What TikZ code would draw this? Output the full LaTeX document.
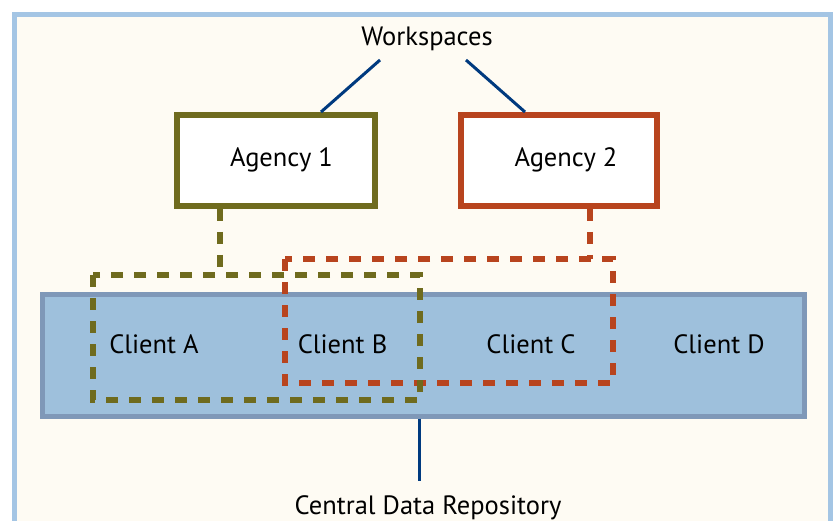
\documentclass[tikz,border=0pt]{standalone}
\usepackage{fontspec}
\setmainfont{PT Sans}
\definecolor{framebl}{HTML}{A4C5E4}
\definecolor{cream}{HTML}{FEFBF3}
\definecolor{olive}{HTML}{6F6B1E}
\definecolor{rust}{HTML}{B8441E}
\definecolor{bandfill}{HTML}{9EC0DC}
\definecolor{bandline}{HTML}{7F98B8}
\definecolor{navy}{HTML}{003A7F}
\tikzset{
  lbl/.style={font=\fontsize{26.5}{30}\selectfont, text=black, inner sep=0pt, anchor=base},
  agbox/.style={draw=#1, fill=white, line width=6pt, minimum height=91pt, inner sep=0pt},
  dashbox/.style={draw=#1, line width=6.5pt, dash pattern=on 12pt off 11pt},
  conn/.style={draw=navy, line width=3pt},
}
\begin{document}
\begin{tikzpicture}[x=1pt,y=-1pt]
\useasboundingbox (0,0) rectangle (835,521);
\clip (0,0) rectangle (835,521);
\fill[white] (0,0) rectangle (835,521);
\draw[draw=framebl, fill=cream, line width=5pt] (14.5,14.5) rectangle (830.5,560);
% workspaces
\node[lbl] (ws) at (427,46) {Workspaces};
\coordinate (wsL) at (380,60);
\coordinate (wsR) at (466,60);
% agency boxes
\node[agbox=olive, minimum width=198pt] (ag1) at (276,160.5) {};
\node[agbox=rust, minimum width=196pt] (ag2) at (559,160.5) {};
\node[lbl] (ag1t) at (281.5,167) {Agency 1};
\node[lbl] (ag2t) at (566,167) {Agency 2};
\draw[conn] (wsL) -- (ag1.north -| 321,0);
\draw[conn] (wsR) -- (ag2.north -| 525,0);
% band
\node[draw=bandline, fill=bandfill, line width=5pt, minimum width=762pt, minimum height=121pt, inner sep=0pt] (band) at (423,355.5) {};
\node[lbl] (ca) at (154,353) {Client A};
\node[lbl] (cb) at (342.5,353) {Client B};
\node[lbl] (cc) at (531,353) {Client C};
\node[lbl] (cd) at (719,353) {Client D};
% dashed workspaces
\coordinate (o1) at (93,275);
\coordinate (o2) at (420,400);
\coordinate (r1) at (285,259);
\coordinate (r2) at (613,383);
\draw[dashbox=rust] (r1) rectangle (r2);
\draw[dashbox=olive] (o1) rectangle (o2);
\coordinate (o1c) at (220,275);
\coordinate (r1c) at (590,259);
\draw[dashbox=olive] (ag1.south -| o1c) -- (o1c);
\draw[dashbox=rust] (ag2.south -| r1c) -- (r1c);
% central repository
\node[lbl] (cdr) at (428,514) {Central Data Repository};
\draw[conn] (band.south -| 419,0) -- (419,481);
\end{tikzpicture}
\end{document}
